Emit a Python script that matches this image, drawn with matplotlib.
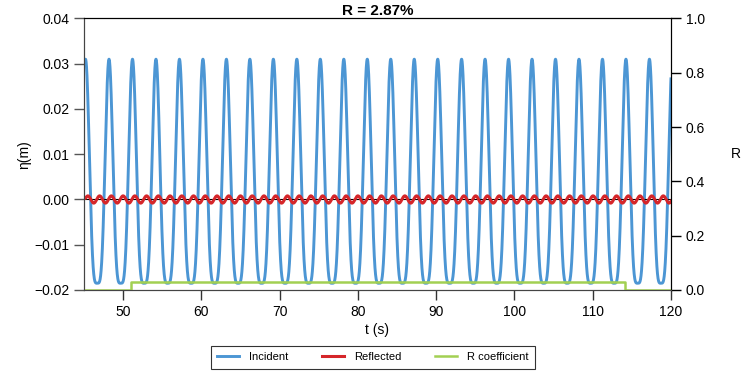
import numpy as np
import matplotlib
matplotlib.use("Agg")
import matplotlib.pyplot as plt

plt.rcParams['font.family'] = ['Liberation Sans', 'DejaVu Sans']

# ---- data ----
crest_times = [45.2, 48.2, 51.2, 54.2, 57.2, 60.2, 63.2, 66.2, 69.2, 72.2,
               75.2, 78.2, 81.2, 84.2, 87.2, 90.2, 93.25, 96.25, 99.25,
               102.25, 105.25, 108.25, 111.25, 114.25, 117.25, 120.2]
incident_crest = 0.031      # m
incident_trough = -0.0185   # m
reflected_amp = 0.0008      # m
reflected_shift = 0.2       # cycles of the reflected (half-period) wave
r_step_times = [45.0, 51.0, 114.1, 120.0]
r_step_values = [0.0, 0.0287, 0.0]
title_text = "R = 2.87%"
x_ticks = [50, 60, 70, 80, 90, 100, 110, 120]
y_ticks = [-0.02, -0.01, 0.00, 0.01, 0.02, 0.03, 0.04]
r_ticks = [0.0, 0.2, 0.4, 0.6, 0.8, 1.0]

# ---- build the wave curves from the read crest times / heights ----
t = np.linspace(45, 120, 6000)
k = np.arange(len(crest_times))
cycles = np.interp(t, crest_times, k)
theta = 2 * np.pi * cycles
a1 = (incident_crest - incident_trough) / 2
a2 = (incident_crest + incident_trough) / 2
incident = a1 * np.cos(theta) + a2 * np.cos(2 * theta)
reflected = reflected_amp * np.cos(2 * theta - 2 * np.pi * reflected_shift)

blue = '#4C96D4'
red = '#D5262A'
green = '#A2D052'

fig = plt.figure(figsize=(7.47, 3.74), dpi=100)
ax = fig.add_axes([0.1124, 0.2246, 0.7858, 0.726])
ax2 = ax.twinx()

l1, = ax.plot(t, incident, color=blue, lw=2.1, zorder=2, label='Incident')
ax.axhline(0, color='black', lw=0.8, zorder=2.5)
l2, = ax.plot(t, reflected, color=red, lw=2.2, zorder=3, label='Reflected')
l3, = ax2.step(r_step_times, r_step_values + [r_step_values[-1]], where='post',
               color=green, lw=1.8, label='R coefficient')

ax.set_zorder(2)
ax.patch.set_visible(False)
ax2.set_zorder(3)
ax2.patch.set_visible(False)

ax.set_xlim(45, 120)
ax.set_ylim(-0.02, 0.04)
ax2.set_ylim(0, 1)
ax.set_xticks(x_ticks)
ax.set_yticks(y_ticks)
ax.set_yticklabels([f"{v:.2f}".replace('-', '\u2212') for v in y_ticks])
ax2.set_yticks(r_ticks)
ax2.set_yticklabels([f"{v:.1f}" for v in r_ticks])

for a in (ax, ax2):
    a.tick_params(direction='out', length=7, width=1, labelsize=10)
ax.tick_params(axis='y', colors='#555555', labelcolor='black')
ax.tick_params(axis='x', colors='#333333', labelcolor='black')

for s in ('left', 'bottom'):
    ax.spines[s].set_color('#444444')
    ax2.spines[s].set_color('#444444')
for s in ('top', 'right'):
    ax.spines[s].set_color('black')
    ax2.spines[s].set_color('black')

ax.set_xlabel('t (s)', fontsize=10, labelpad=3)
ax.set_ylabel('η(m)', fontsize=10, labelpad=2)
ax2.set_ylabel('R', fontsize=10, rotation=0, labelpad=22, va='center')
ax.set_title(title_text, fontsize=11, fontweight='bold', pad=2)

leg = fig.legend(handles=[l1, l2, l3], loc='center', bbox_to_anchor=(0.4993, 0.045),
                 ncol=3, fontsize=8, frameon=True, fancybox=False,
                 edgecolor='black', handlelength=2.0, handletextpad=0.9,
                 columnspacing=3.0, borderpad=0.6)
leg.get_frame().set_linewidth(0.8)

fig.savefig('out.png', dpi=100)
